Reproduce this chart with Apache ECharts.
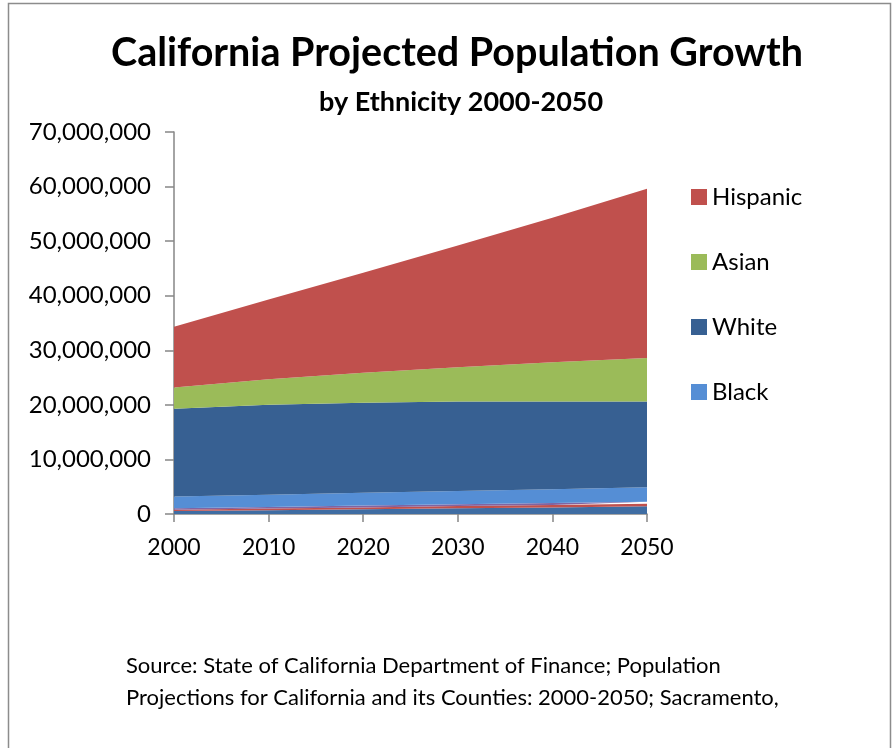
<!DOCTYPE html>
<html>
<head>
<meta charset="utf-8">
<script src="https://cdn.jsdelivr.net/npm/echarts@6/dist/echarts.min.js"></script>
<style>
  html, body { margin: 0; padding: 0; background: #fff; }
  #chart { width: 896px; height: 748px; }
</style>
</head>
<body>
<div id="chart"></div>
<script>
// California projected population by ethnicity (millions of people), 2000-2050
const years = ['2000', '2010', '2020', '2030', '2040', '2050'];
const multirace = [0.55, 0.70, 0.85, 1.05, 1.20, 1.40];
const pacificIslander = [0.25, 0.30, 0.35, 0.40, 0.45, 0.50];
const americanIndian = [0.25, 0.30, 0.35, 0.35, 0.35, 0.35];
const black = [2.15, 2.25, 2.35, 2.40, 2.55, 2.65];
const white = [16.10, 16.45, 16.50, 16.40, 16.05, 15.70];
const asian = [3.90, 4.70, 5.50, 6.30, 7.20, 8.00];
const hispanic = [11.10, 14.60, 18.30, 22.30, 26.50, 31.00];
const yTicks = [0, 10000000, 20000000, 30000000, 40000000, 50000000, 60000000, 70000000];

const M = 1000000;
const toPeople = arr => arr.map(v => Math.round(v * M));

const font = 'Lato, "Open Sans", "Liberation Sans", sans-serif';

function band(name, values, color) {
  return {
    name: name,
    type: 'line',
    stack: 'population',
    data: toPeople(values),
    symbol: 'none',
    smooth: false,
    lineStyle: { width: 0 },
    areaStyle: { color: color, opacity: 1 },
    itemStyle: { color: color },
    emphasis: { disabled: true },
    animation: false
  };
}

function legendEntry(name, top) {
  return {
    data: [name],
    left: 686,
    top: top,
    orient: 'vertical',
    itemWidth: 16,
    itemHeight: 16,
    itemGap: 0,
    icon: 'rect',
    selectedMode: false,
    textStyle: { fontFamily: font, fontSize: 24, color: '#000', padding: [0, 0, 0, 0] }
  };
}

const chart = echarts.init(document.getElementById('chart'), null, { renderer: 'canvas' });

chart.setOption({
  backgroundColor: '#fff',
  animation: false,
  title: [
    {
      text: 'California Projected Population Growth',
      left: 106,
      top: 28,
      textStyle: { fontFamily: font, fontSize: 39.5, fontWeight: 'bold', color: '#000' }
    },
    {
      text: 'by Ethnicity 2000-2050',
      left: 314,
      top: 84,
      textStyle: { fontFamily: font, fontSize: 27, fontWeight: 'bold', color: '#000' }
    }
  ],
  legend: [
    legendEntry('Hispanic', 180),
    legendEntry('Asian', 245),
    legendEntry('White', 310),
    legendEntry('Black', 375)
  ],
  grid: { left: 174, right: 249, top: 132, bottom: 234, containLabel: false },
  xAxis: {
    type: 'category',
    data: years,
    boundaryGap: false,
    axisLine: { lineStyle: { color: '#868686', width: 1.5 } },
    axisTick: { show: true, alignWithLabel: true, length: 8, lineStyle: { color: '#868686', width: 1.5 } },
    axisLabel: { fontFamily: font, fontSize: 23, color: '#000', margin: 22 },
    splitLine: { show: false }
  },
  yAxis: {
    type: 'value',
    min: yTicks[0],
    max: yTicks[yTicks.length - 1],
    interval: yTicks[1] - yTicks[0],
    axisLine: { show: true, lineStyle: { color: '#868686', width: 1.5 } },
    axisTick: { show: true, length: 9, lineStyle: { color: '#868686', width: 1.5 } },
    axisLabel: {
      fontFamily: font, fontSize: 24, color: '#000', margin: 23,
      formatter: v => v.toLocaleString('en-US')
    },
    splitLine: { show: false }
  },
  series: [
    band('Multirace', multirace, '#3F6DA3'),
    band('Pacific Islander', pacificIslander, '#C0504D'),
    band('American Indian', americanIndian, '#8064A2'),
    band('Black', black, '#558ED5'),
    band('White', white, '#376092'),
    band('Asian', asian, '#9BBB59'),
    band('Hispanic', hispanic, '#C0504D')
  ],
  graphic: [
    {
      type: 'rect',
      shape: { x: 8.5, y: 3.5, width: 882, height: 760 },
      style: { fill: 'none', stroke: '#8c8c8c', lineWidth: 1.5 },
      silent: true
    },
    {
      type: 'text',
      left: 126,
      top: 650,
      style: {
        text: 'Source: State of California Department of Finance; Population\nProjections for California and its Counties: 2000-2050; Sacramento,',
        fontFamily: font,
        fontSize: 22,
        lineHeight: 32,
        fill: '#000'
      },
      silent: true
    }
  ]
});
</script>
</body>
</html>
